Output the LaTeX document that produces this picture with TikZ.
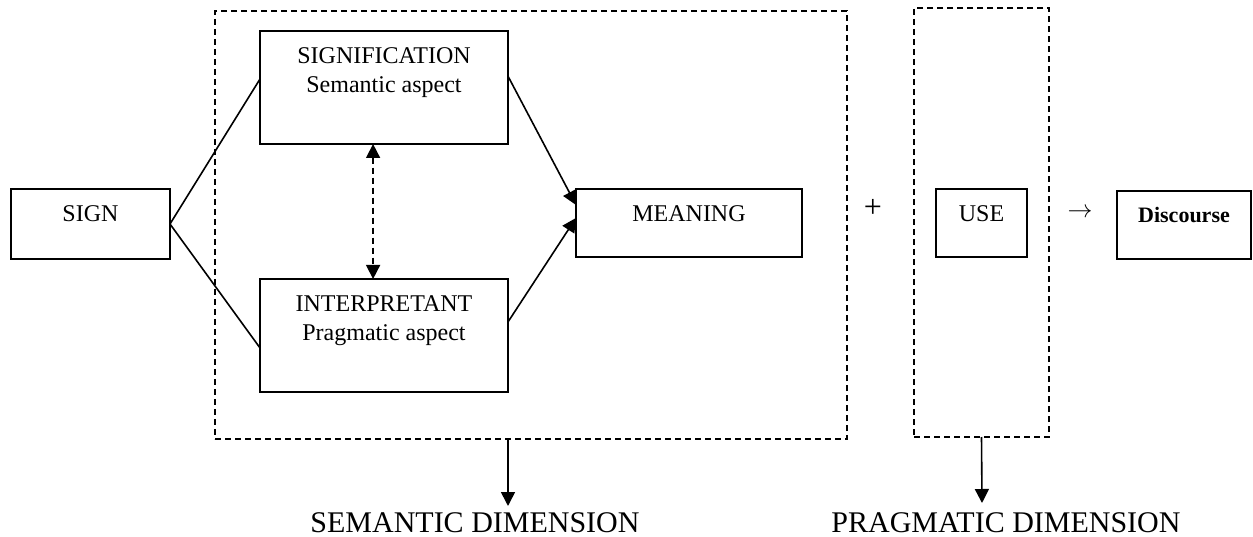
\documentclass[tikz,border=0pt]{standalone}
\usepackage{fontspec}
\setmainfont{Liberation Serif}
\usetikzlibrary{arrows.meta,calc}
\begin{document}
\begin{tikzpicture}[x=1pt,y=-1pt,
  boxline/.style={draw, line width=1.6pt, inner sep=0pt, outer sep=0pt},
  frame/.style={draw, dash pattern=on 6pt off 4pt, line width=1.5pt, inner sep=0pt, outer sep=0pt},
  txt/.style={font=\fontsize{24}{29}\selectfont, inner sep=0pt, anchor=base},
  optxt/.style={font=\fontsize{32}{36}\selectfont, inner sep=0pt, anchor=center},
  bigtxt/.style={font=\fontsize{30}{36}\selectfont, inner sep=0pt, anchor=base},
  link/.style={line width=1.6pt},
  tip/.style={-{Triangle[length=14pt,width=14pt]}},
]
\useasboundingbox (0,0) rectangle (1253,537);

% dashed frames
\node[frame, minimum width=632, minimum height=428] (semframe) at (531,225) {};
\node[frame, minimum width=135, minimum height=429] (pragframe) at (981.5,222.5) {};

% boxes
\node[boxline, minimum width=159, minimum height=70]  (sign)    at (90.5,224)  {};
\node[boxline, minimum width=248, minimum height=113] (signif)  at (384,87.5)  {};
\node[boxline, minimum width=248, minimum height=113] (interp)  at (384,335.5) {};
\node[boxline, minimum width=226, minimum height=68]  (meaning) at (689,223)   {};
\node[boxline, minimum width=91,  minimum height=68]  (use)     at (981.5,223) {};
\node[boxline, minimum width=134, minimum height=68]  (disc)    at (1184,225) {};

% box texts
\node[txt] (signT)    at (90.5,222)  {SIGN};
\node[txt] (signifT1) at (384,64)    {SIGNIFICATION};
\node[txt] (signifT2) at (384,93)    {Semantic aspect};
\node[txt] (interpT1) at (384,312)   {INTERPRETANT};
\node[txt] (interpT2) at (384,341)   {Pragmatic aspect};
\node[txt] (meaningT) at (689,222)   {MEANING};
\node[txt] (useT)     at (981.5,222) {USE};
\node[txt, font=\fontsize{22}{26}\selectfont\bfseries] (discT) at (1184,223) {Discourse};

% operators between the blocks
\node[optxt] (plus)   at (873,208)  {+};
\node[optxt, font=\fontsize{28}{32}\selectfont] (yields) at (1080,213) {$\rightarrow$};

% sign branches
\draw[link] (sign.east) -- ($(signif.north west)!0.425!(signif.south west)$);
\draw[link] (sign.east) -- ($(interp.north west)!0.61!(interp.south west)$);

% towards meaning
\draw[link, tip] ($(signif.north east)!0.40!(signif.south east)$) -- ($(meaning.north west)!0.235!(meaning.south west)$);
\draw[link, tip] ($(interp.north east)!0.38!(interp.south east)$) -- ($(meaning.north west)!0.426!(meaning.south west)$);

% mutual relation
\draw[link, dash pattern=on 6pt off 4pt, {Triangle[length=14pt,width=14pt]}-{Triangle[length=14pt,width=14pt]}]
  ($(signif.south west)!0.456!(signif.south east)$) -- ($(interp.north west)!0.456!(interp.north east)$);

% dimensions
\coordinate (semEnd) at (508,506);
\coordinate (pragEnd) at (982,503);
\draw[link, tip] ($(semframe.south west)!0.4636!(semframe.south east)$) -- (semEnd);
\draw[link, tip] (pragframe.south) -- (pragEnd);
\node[bigtxt] (semL)  at (475,532)  {SEMANTIC DIMENSION};
\node[bigtxt] (pragL) at (1006,532) {PRAGMATIC DIMENSION};
\end{tikzpicture}
\end{document}
